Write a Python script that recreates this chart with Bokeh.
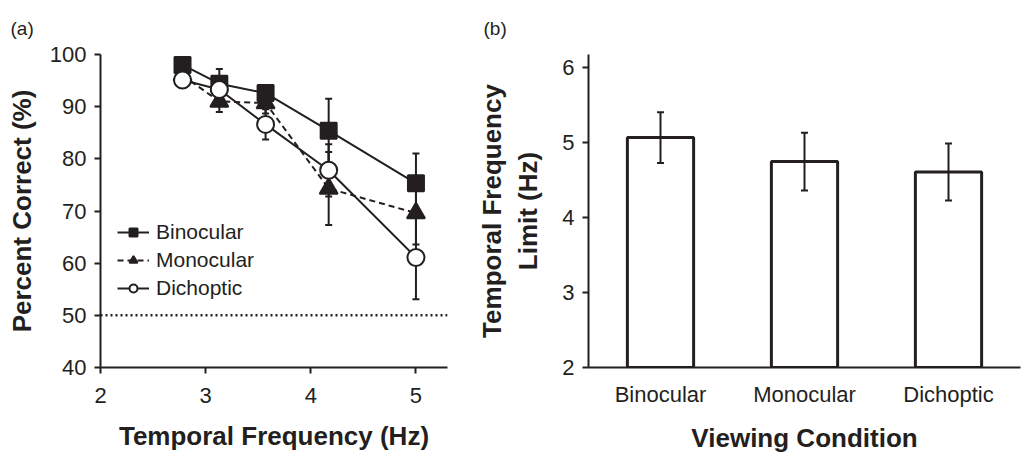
from bokeh.plotting import figure
from bokeh.models import (Range1d, FactorRange, Whisker, TeeHead, ColumnDataSource,
                          Span, Legend, LegendItem, FixedTicker)
from bokeh.layouts import row
from bokeh.embed import file_html
from bokeh.resources import INLINE

# ---- data: panel (a) ----
freq = [2.78, 3.13, 3.57, 4.17, 5.0]
binocular = [98.0, 94.4, 92.6, 85.4, 75.3]
binocular_err = [1.5, 2.8, 1.5, 6.1, 5.7]
monocular = [96.0, 91.0, 90.7, 74.3, 69.6]
monocular_err = [1.5, 2.0, 2.0, 7.0, 6.0]
dichoptic = [95.1, 93.3, 86.6, 77.8, 61.1]
dichoptic_err = [1.5, 2.0, 2.9, 5.0, 8.0]
chance = 50
x_ticks = [2, 3, 4, 5]
y_ticks = [40, 50, 60, 70, 80, 90, 100]

# ---- data: panel (b) ----
conditions = ["Binocular", "Monocular", "Dichoptic"]
limits = [5.07, 4.75, 4.61]
limits_err = [0.34, 0.385, 0.38]
y2_ticks = [2, 3, 4, 5, 6]

INK = "#231f20"
FONT = "Liberation Sans"


def style_axes(p):
    for ax in p.axis:
        ax.axis_line_width = 2
        ax.axis_line_color = INK
        ax.major_tick_line_width = 2
        ax.major_tick_line_color = INK
        ax.major_tick_out = 6
        ax.major_tick_in = 0
        ax.minor_tick_line_color = None
        ax.major_label_text_font = FONT
        ax.major_label_text_font_size = "22px"
        ax.major_label_text_color = INK
        ax.major_label_standoff = 8
        ax.axis_label_text_font = FONT
        ax.axis_label_text_font_size = "26px"
        ax.axis_label_text_font_style = "bold"
        ax.axis_label_text_color = INK
        ax.axis_label_standoff = 13
    p.grid.visible = False
    p.outline_line_color = None


def style_title(p, text, offset):
    p.title.text = text
    p.title.align = "left"
    p.title.offset = offset
    p.title.standoff = 31
    p.title.text_font = FONT
    p.title.text_font_size = "19px"
    p.title.text_font_style = "normal"
    p.title.text_color = INK


# ---------------- panel (a) ----------------
p1 = figure(width=460, height=455, x_range=Range1d(2, 5.3), y_range=Range1d(40, 100),
            output_backend="svg", toolbar_location=None,
            min_border_left=100, min_border_right=13, min_border_top=53, min_border_bottom=85)
style_axes(p1)
style_title(p1, "(a)", -90)
p1.xaxis.ticker = FixedTicker(ticks=x_ticks)
p1.yaxis.ticker = FixedTicker(ticks=y_ticks)
p1.xaxis.axis_label = "Temporal Frequency (Hz)"
p1.yaxis.axis_label = "Percent Correct (%)"
p1.xaxis.major_label_standoff = 14
p1.xaxis.axis_label_standoff = 15
p1.yaxis.axis_label_standoff = 10

p1.add_layout(Span(location=chance, dimension="width", line_color=INK,
                   line_width=2.5, line_dash="2 3"))

series = [
    (binocular, binocular_err, "square", INK, "solid", 16, "Binocular"),
    (monocular, monocular_err, "triangle", INK, "dashed", 18, "Monocular"),
    (dichoptic, dichoptic_err, "circle", "white", "solid", 17, "Dichoptic"),
]
items = []
for vals, errs, marker, fill, dash, size, name in series:
    src = ColumnDataSource(dict(x=freq, y=vals,
                                upper=[v + e for v, e in zip(vals, errs)],
                                lower=[v - e for v, e in zip(vals, errs)]))
    p1.add_layout(Whisker(source=src, base="x", upper="upper", lower="lower",
                          dimension="height", line_color=INK, line_width=2,
                          upper_head=TeeHead(size=7, line_width=2, line_color=INK),
                          lower_head=TeeHead(size=7, line_width=2, line_color=INK)))
    ln = p1.line("x", "y", source=src, line_color=INK, line_width=2,
                 line_dash="6 4" if dash == "dashed" else "solid")
    sc = p1.scatter("x", "y", source=src, marker=marker, size=size,
                    fill_color=fill, line_color=INK, line_width=2)
    items.append(LegendItem(label=name, renderers=[ln, sc]))

legend = Legend(items=items, location=(17, 67), glyph_width=32, glyph_height=20,
                spacing=4, label_standoff=7, padding=0, margin=0,
                border_line_color=None, background_fill_alpha=0,
                label_text_font=FONT, label_text_font_size="21px",
                label_text_color=INK, label_height=20)
p1.add_layout(legend)

# ---------------- panel (b) ----------------
p2 = figure(width=562, height=455, x_range=FactorRange(*conditions, range_padding=0),
            y_range=Range1d(2, 6.18), output_backend="svg", toolbar_location=None,
            min_border_left=128, min_border_right=2, min_border_top=53, min_border_bottom=85)
style_axes(p2)
style_title(p2, "(b)", -105)
p2.yaxis.ticker = FixedTicker(ticks=y2_ticks)
p2.xaxis.major_tick_line_color = None
p2.xaxis.major_tick_out = 0
p2.xaxis.major_label_standoff = 14
p2.xaxis.axis_label = "Viewing Condition"
p2.yaxis.axis_label = "Temporal Frequency\nLimit (Hz)"
p2.yaxis.axis_label_standoff = 16

src2 = ColumnDataSource(dict(x=conditions, top=limits,
                             upper=[v + e for v, e in zip(limits, limits_err)],
                             lower=[v - e for v, e in zip(limits, limits_err)]))
p2.vbar(x="x", top="top", bottom=0, width=0.46, source=src2,
        fill_color="white", line_color=INK, line_width=3)
p2.add_layout(Whisker(source=src2, base="x", upper="upper", lower="lower",
                      dimension="height", line_color=INK, line_width=2, level="overlay",
                      upper_head=TeeHead(size=7, line_width=2, line_color=INK),
                      lower_head=TeeHead(size=7, line_width=2, line_color=INK)))

layout = row(p1, p2)
open("out.html", "w").write(file_html(layout, INLINE))
